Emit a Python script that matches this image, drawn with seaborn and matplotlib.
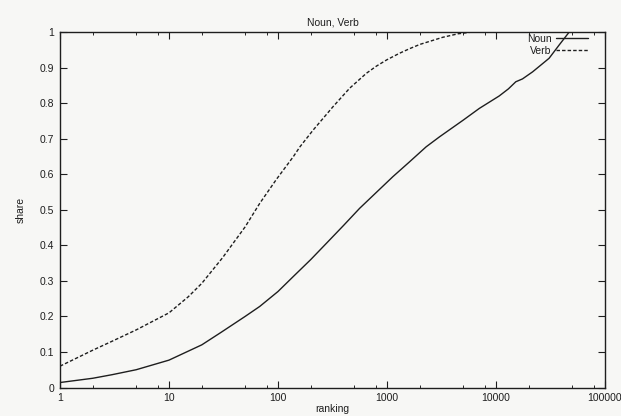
import matplotlib
matplotlib.use("Agg")
import matplotlib.pyplot as plt
from matplotlib.ticker import FixedLocator, FixedFormatter, LogLocator, NullFormatter
import seaborn as sns
import pandas as pd

noun_rank = [1, 2, 3, 5, 10, 20, 30, 50, 68, 100, 138, 200, 279, 400, 561, 800, 1132,
             1600, 2287, 3030, 5000, 7030, 10700, 13000, 15200, 17500, 21700, 30700, 37900, 47000]
noun_share = [0.014, 0.026, 0.036, 0.05, 0.077, 0.12, 0.155, 0.2, 0.228, 0.27, 0.312, 0.36, 0.406,
              0.456, 0.504, 0.549, 0.593, 0.634, 0.677, 0.705, 0.752, 0.785, 0.82, 0.84, 0.86, 0.868,
              0.888, 0.926, 0.963, 1.0]
verb_rank = [1, 2, 3, 5, 10, 15, 20, 31, 50, 68, 97, 138, 159, 210, 320, 455, 648, 800, 1000,
             1300, 1610, 2000, 3240, 4500, 6100]
verb_share = [0.06, 0.105, 0.13, 0.162, 0.21, 0.255, 0.293, 0.365, 0.452, 0.518, 0.586, 0.649,
              0.677, 0.724, 0.79, 0.842, 0.884, 0.904, 0.922, 0.94, 0.953, 0.965, 0.985, 0.995, 1.0]

x_ticks = [1, 10, 100, 1000, 10000, 100000]
x_labels = ["1", "10", "100", "1000", "10000", "100000"]
y_ticks = [0, 0.1, 0.2, 0.3, 0.4, 0.5, 0.6, 0.7, 0.8, 0.9, 1]
y_labels = ["0", "0.1", "0.2", "0.3", "0.4", "0.5", "0.6", "0.7", "0.8", "0.9", "1"]

df = pd.concat([
    pd.DataFrame({"rank": noun_rank, "share": noun_share, "series": "Noun"}),
    pd.DataFrame({"rank": verb_rank, "share": verb_share, "series": "Verb"}),
], ignore_index=True)

sns.set_style("ticks")
plt.rcParams["font.family"] = ["Liberation Sans", "DejaVu Sans"]
plt.rcParams["xtick.direction"] = "in"
plt.rcParams["ytick.direction"] = "in"

bg = "#f7f7f5"
ink = "#1e1e1e"
fig = plt.figure(figsize=(6.21, 4.16), dpi=100, facecolor=bg)
ax = fig.add_axes([0.0966, 0.0685, 0.8776, 0.8546])
ax.set_facecolor(bg)

sns.lineplot(data=df, x="rank", y="share", style="series", color=ink,
             dashes={"Noun": "", "Verb": (2.5, 1.5)}, linewidth=1.0,
             sort=False, estimator=None, ax=ax)

ax.set_xscale("log")
ax.set_xlim(1, 100000)
ax.set_ylim(0, 1)
ax.xaxis.set_major_locator(FixedLocator(x_ticks))
ax.xaxis.set_major_formatter(FixedFormatter(x_labels))
ax.xaxis.set_minor_locator(LogLocator(base=10, subs=[2, 5, 8], numticks=20))
ax.xaxis.set_minor_formatter(NullFormatter())
ax.yaxis.set_major_locator(FixedLocator(y_ticks))
ax.yaxis.set_major_formatter(FixedFormatter(y_labels))

ax.tick_params(which="major", direction="in", length=5, width=0.8, top=True, right=True,
               labelsize=7.5, colors=ink, pad=4)
ax.tick_params(which="minor", direction="in", length=2.5, width=0.7, top=True, right=True)
for s in ax.spines.values():
    s.set_linewidth(1.0)
    s.set_color(ink)

ax.set_xlabel("ranking", fontsize=7.5, labelpad=1, color=ink)
ax.set_ylabel("share", fontsize=7.5, labelpad=10, color=ink)
ax.set_title("Noun, Verb", fontsize=7.5, pad=5, color=ink)

handles, labels = ax.get_legend_handles_labels()
leg = ax.legend(handles, labels, loc="upper right", bbox_to_anchor=(0.976, 1.006),
                frameon=False, markerfirst=False, fontsize=7.5, handlelength=3.0,
                handletextpad=0.5, labelspacing=0.15, borderaxespad=0.0)
for t in leg.get_texts():
    t.set_color(ink)

fig.savefig("out.png", dpi=100, facecolor=bg)
